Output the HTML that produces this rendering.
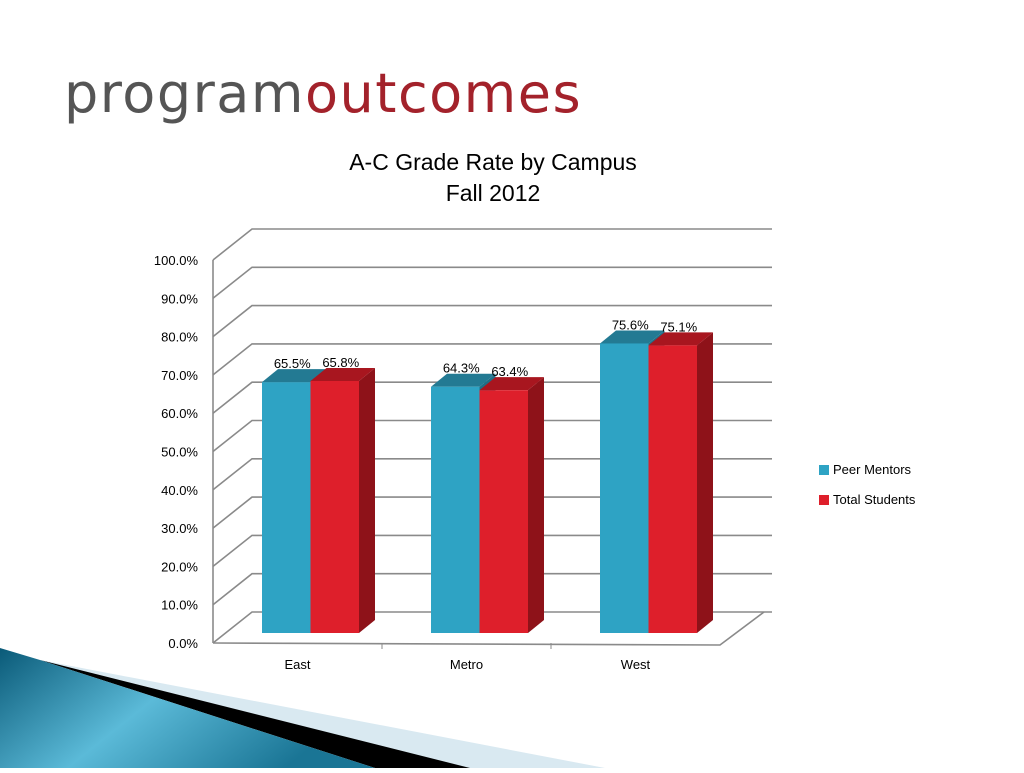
<!DOCTYPE html>
<html><head><meta charset="utf-8"><style>
body{margin:0;width:1024px;height:768px;background:#fff;overflow:hidden;font-family:"Liberation Sans",sans-serif}
</style></head><body>
<svg width="1024" height="768">
<defs>
<linearGradient id="bg" x1="0" y1="0" x2="1" y2="0.4">
<stop offset="0" stop-color="#0a5a78"/><stop offset="0.5" stop-color="#5bbad8"/><stop offset="1" stop-color="#1a7595"/></linearGradient>
</defs>
<g>
<polygon points="40,660 605,768 380,768" fill="#d9e9f1"/>
<polygon points="40,660 470,768 375,768" fill="#000"/>
<polygon points="0,648 40,660 375,768 0,768" fill="url(#bg)"/>
</g>
<text x="64" y="112" font-family="DejaVu Sans, sans-serif" font-size="54" letter-spacing="1.5"><tspan fill="#555">program</tspan><tspan fill="#a3222b">outcomes</tspan></text>
<text x="493" y="170" text-anchor="middle" font-size="23" fill="#000">A-C Grade Rate by Campus</text>
<text x="493" y="201" text-anchor="middle" font-size="23" fill="#000">Fall 2012</text>
<g id="chart"></g>
<g>
<rect x="819" y="465" width="10" height="10" fill="#2ea3c4"/>
<text x="833" y="474" font-size="13">Peer Mentors</text>
<rect x="819" y="495" width="10" height="10" fill="#de1f2b"/>
<text x="833" y="504" font-size="13">Total Students</text>
</g>
</svg>
<script>
const categories=["East","Metro","West"];
const peer=[65.5,64.3,75.6];
const total=[65.8,63.4,75.1];
const ticks=[0,10,20,30,40,50,60,70,80,90,100];
const ns="http://www.w3.org/2000/svg";
const g=document.getElementById("chart");
function el(t,a,p){const e=document.createElementNS(ns,t);for(const k in a)e.setAttribute(k,a[k]);(p||g).appendChild(e);return e;}
const x0=213,x1=720,y0=643,dx=39,dy=-31,pxPer=3.83;
const yF=v=>y0-v*pxPer;
const band=(x1-x0)/categories.length;
// back walls/gridlines
ticks.forEach(t=>{
 const y=yF(t);
 const l=el("polyline",{points:`${x0},${y} ${x0+dx},${y+dy} ${x1+52},${y+dy}`,fill:"none",stroke:"#8a8a8a","stroke-width":1.6});
 
 
 const tx=el("text",{x:x0-15,y:y+5,"text-anchor":"end","font-size":13,fill:"#000"});
 tx.textContent=t.toFixed(1)+"%";
 
 
});
const fl=el("polyline",{points:`${x0},${y0} ${x1},${y0+2} ${x1+dx+5},${y0+dy}`,fill:"none",stroke:"#8a8a8a","stroke-width":1.6});


const ax=el("line",{x1:x0,y1:yF(100),x2:x0,y2:y0,stroke:"#8a8a8a","stroke-width":1.6});


const barW=48.5,bx=16,by=-13,base=y0-10;
const hOf=v=>v*pxPer;
function bar(x,v,front,top,side,name){
 const yt=base-hOf(v);
 const gg=el("g",{});
 
 
 el("polygon",{points:`${x+barW},${yt} ${x+barW+bx},${yt+by} ${x+barW+bx},${base+by} ${x+barW},${base}`,fill:side},gg);
 el("polygon",{points:`${x},${yt} ${x+bx},${yt+by} ${x+barW+bx},${yt+by} ${x+barW},${yt}`,fill:top},gg);
 el("rect",{x:x,y:yt,width:barW,height:base-yt,fill:front},gg);
 return yt;
}
categories.forEach((c,i)=>{
 const bs=x0+band*i+49;
 const yp=bar(bs,peer[i],"#2ea3c4","#237a93","#1f6f87","bar-peer-"+c.toLowerCase());
 const yt=bar(bs+barW,total[i],"#de1f2b","#a8161f","#8e1219","bar-total-"+c.toLowerCase());
 const lp=el("text",{x:bs+barW/2+6,y:yp-14-(peer[i]<total[i]?0:(peer[i]-total[i])*0),"text-anchor":"middle","font-size":13});
 lp.textContent=peer[i].toFixed(1)+"%";
 
 
 const lt=el("text",{x:bs+barW*1.5+6,y:yt-14,"text-anchor":"middle","font-size":13});
 lt.textContent=total[i].toFixed(1)+"%";
 
 
 const cx=el("text",{x:x0+band*(i+0.5),y:669,"text-anchor":"middle","font-size":13});
 cx.textContent=c;
 
 
 if(i>0){const tk=el("line",{x1:x0+band*i,y1:y0,x2:x0+band*i,y2:y0+6,stroke:"#8a8a8a"});
 
 }
});
</script>
</body></html>
